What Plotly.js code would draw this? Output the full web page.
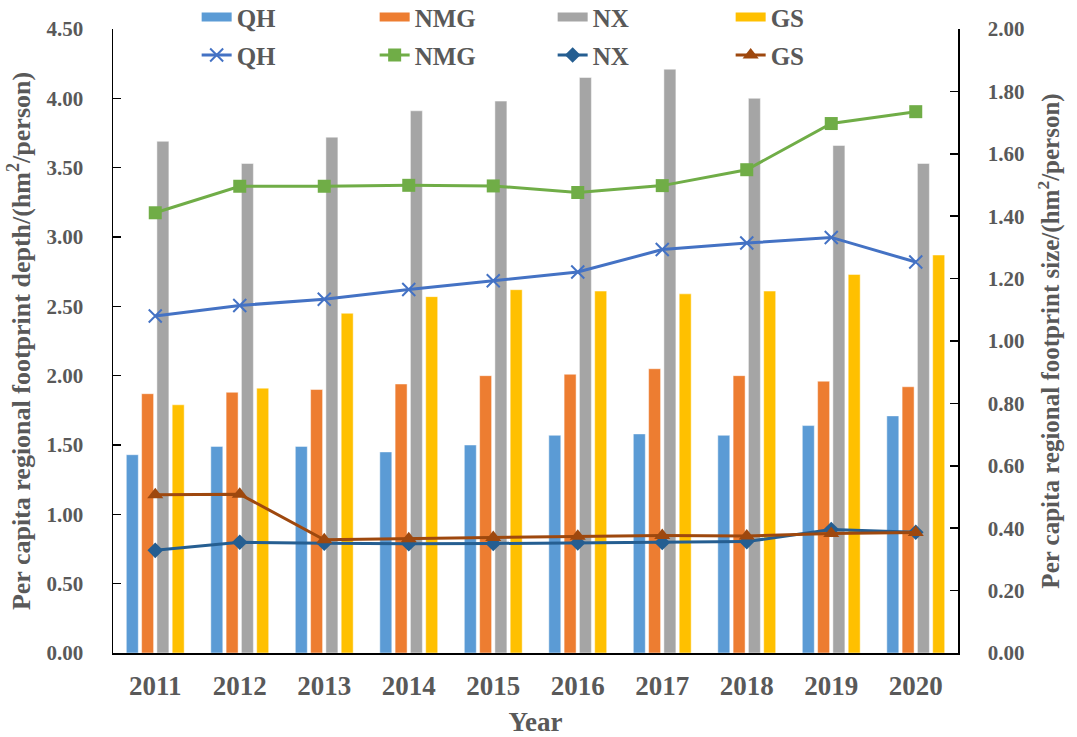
<!DOCTYPE html>
<html>
<head>
<meta charset="utf-8">
<script src="https://cdn.plot.ly/plotly-3.0.1.min.js"></script>
<style>html,body{margin:0;padding:0;background:#fff;}#chart{width:1077px;height:737px;}</style>
</head>
<body>
<div id="chart"></div>
<script>
// Categories
const years = ['2011','2012','2013','2014','2015','2016','2017','2018','2019','2020'];

// Per capita regional footprint depth (left axis, bars)
const depthQH  = [1.43, 1.49, 1.49, 1.45, 1.50, 1.57, 1.58, 1.57, 1.64, 1.71];
const depthNMG = [1.87, 1.88, 1.90, 1.94, 2.00, 2.01, 2.05, 2.00, 1.96, 1.92];
const depthNX  = [3.69, 3.53, 3.72, 3.91, 3.98, 4.15, 4.21, 4.00, 3.66, 3.53];
const depthGS  = [1.79, 1.91, 2.45, 2.57, 2.62, 2.61, 2.59, 2.61, 2.73, 2.87];

// Per capita regional footprint size (right axis, lines)
const sizeQH  = [1.080, 1.114, 1.134, 1.165, 1.193, 1.221, 1.293, 1.314, 1.332, 1.253];
const sizeNMG = [1.411, 1.496, 1.496, 1.499, 1.497, 1.476, 1.498, 1.549, 1.697, 1.735];
const sizeNX  = [0.329, 0.355, 0.352, 0.350, 0.351, 0.353, 0.354, 0.357, 0.396, 0.387];
const sizeGS  = [0.507, 0.509, 0.363, 0.366, 0.370, 0.374, 0.377, 0.375, 0.383, 0.386];

const names = ['QH','NMG','NX','GS'];
const barColors  = ['#5B9BD5','#ED7D31','#A5A5A5','#FFC000'];
const lineColors = ['#4472C4','#70AD47','#255E91','#9E480E'];
const symbols = ['x-thin','square','diamond','triangle-up'];
const symSizes = [13, 13, 12, 14];

const depth = [depthQH, depthNMG, depthNX, depthGS];
const size  = [sizeQH, sizeNMG, sizeNX, sizeGS];

const FONT = 'Liberation Serif, Times New Roman, serif';
const GREY = '#595959';

const traces = [];
depth.forEach((vals, i) => {
  traces.push({
    type: 'bar', x: years, y: vals, name: names[i], yaxis: 'y', xaxis: 'x',
    marker: {color: barColors[i], line: {color: 'rgba(255,255,255,0.8)', width: 0.6}},
    showlegend: false, legendgroup: 'bar' + i, hoverinfo: 'x+y+name'
  });
});
// legend swatches for the bar series (wide rectangles like the reference)
depth.forEach((vals, i) => {
  traces.push({
    type: 'scatter', mode: 'lines', x: [null], y: [null], name: names[i],
    line: {color: barColors[i], width: 9}, legend: 'legend', legendgroup: 'bar' + i,
    hoverinfo: 'skip'
  });
});
size.forEach((vals, i) => {
  traces.push({
    type: 'scatter', mode: 'lines+markers', x: years, y: vals, name: names[i],
    yaxis: 'y2', legend: 'legend2',
    line: {color: lineColors[i], width: 3},
    marker: {symbol: symbols[i], size: symSizes[i], color: lineColors[i],
             line: {color: lineColors[i], width: i === 0 ? 2 : 0}}
  });
});

const legendFont = {family: FONT, size: 25, color: GREY, weight: 'bold'};

const layout = {
  width: 1077, height: 737,
  margin: {l: 113, r: 119, t: 29, b: 84, autoexpand: false},
  paper_bgcolor: '#fff', plot_bgcolor: '#fff',
  font: {family: FONT, color: GREY},
  barmode: 'group', bargap: 0.276, bargroupgap: 0.216,
  xaxis: {
    type: 'category', range: [-0.5, 9.5], autorange: false,
    showline: true, linecolor: '#000', linewidth: 1.5,
    ticks: '', showgrid: false, zeroline: false,
    tickfont: {family: FONT, size: 27, color: GREY, weight: 'bold'},
    ticklabelstandoff: 8,
    title: {text: 'Year', font: {family: FONT, size: 27, color: GREY, weight: 'bold'}, standoff: 12}
  },
  yaxis: {
    range: [0, 4.5], dtick: 0.5, tick0: 0, tickformat: '.2f',
    showline: true, linecolor: '#000', linewidth: 1.5, ticks: 'inside', ticklen: 8, tickwidth: 1.5, tickcolor: '#000',
    showgrid: false, zeroline: false,
    tickfont: {family: FONT, size: 21, color: GREY, weight: 'bold'},
    ticklabelstandoff: 24,
    title: {text: 'Per capita regional footprint depth/(hm<sup>2</sup>/person)',
            font: {family: FONT, size: 26, color: GREY, weight: 'bold'}, standoff: 8}
  },
  yaxis2: {
    overlaying: 'y', side: 'right', range: [0, 2], dtick: 0.2, tick0: 0, tickformat: '.2f',
    showline: true, linecolor: '#000', linewidth: 1.5, ticks: 'inside', ticklen: 8, tickwidth: 1.5, tickcolor: '#000',
    showgrid: false, zeroline: false,
    tickfont: {family: FONT, size: 21, color: GREY, weight: 'bold'},
    ticklabelstandoff: 24,
    title: {text: 'Per capita regional footprint size/(hm<sup>2</sup>/person)',
            font: {family: FONT, size: 25, color: GREY, weight: 'bold'}, standoff: 18}
  },
  legend: {
    orientation: 'h', x: 0.099, xanchor: 'left', y: 1.019, yanchor: 'middle',
    entrywidth: 133, entrywidthmode: 'pixels', font: legendFont,
    bgcolor: 'rgba(0,0,0,0)', itemclick: false, itemdoubleclick: false
  },
  legend2: {
    orientation: 'h', x: 0.099, xanchor: 'left', y: 0.958, yanchor: 'middle',
    entrywidth: 133, entrywidthmode: 'pixels', font: legendFont,
    bgcolor: 'rgba(0,0,0,0)', itemclick: false, itemdoubleclick: false
  }
};

Plotly.newPlot('chart', traces, layout, {displayModeBar: false, staticPlot: true});
</script>
</body>
</html>
